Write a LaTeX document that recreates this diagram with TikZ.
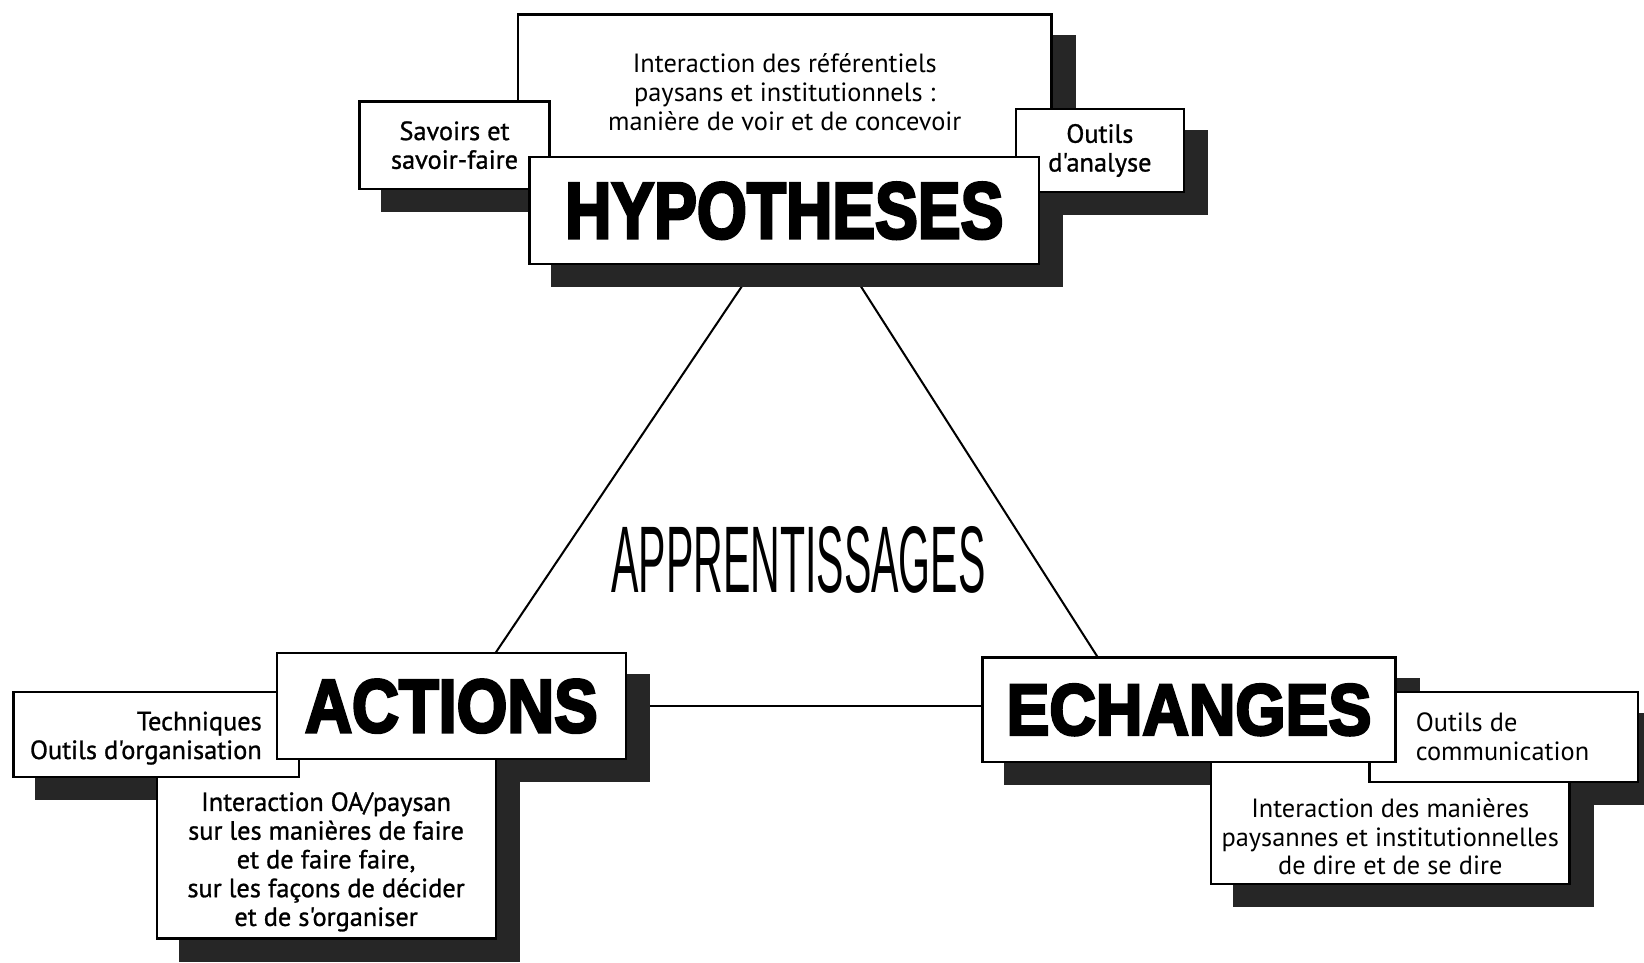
\documentclass[tikz,border=0pt]{standalone}
\usepackage{fontspec}
\setmainfont{PT Sans}
\newfontfamily\semifont{PT Sans}[FakeBold=1]
\newfontfamily\headfont{Liberation Sans Bold}[FakeBold=4]
\newfontfamily\condfont{Liberation Sans}
\usetikzlibrary{calc,backgrounds}

% one unit = one pixel of the layout grid
\newcommand{\px}{0.2mm}

\tikzset{
  box/.style={draw, fill=white, line width=1.3pt, inner sep=0pt, align=center,
    font=\fontsize{14.3}{15.6}\selectfont},
  txt/.style={inner sep=0pt, font=\fontsize{14.3}{15.6}\selectfont},
  shade/.style={fill=black!85},
  link/.style={line width=1.1pt},
}

\begin{document}
\begin{tikzpicture}[x=\px, y=-\px]
  \useasboundingbox (0,0) rectangle (1568,918);

  % --- top group ---
  \node[box, minimum width=509*\px, minimum height=148*\px] (ref) at (748.5,88)
    {Interaction des référentiels\\paysans et institutionnels :\\manière de voir et de concevoir};
  \node[box, minimum width=181*\px, minimum height=83*\px, font=\fontsize{14.3}{15.6}\semifont] (sav) at (433.5,138.5)
    {Savoirs et\\savoir-faire};
  \node[box, minimum width=160*\px, minimum height=79*\px, font=\fontsize{14.3}{15.6}\semifont] (ana) at (1049,143.5)
    {Outils\\d'analyse};
  \node[box, minimum width=486*\px, minimum height=102*\px] (hyp) at (748,201)
    {\resizebox{83.6mm}{10.6mm}{\headfont HYPOTHESES}};

  % --- left group ---
  \node[box, minimum width=323*\px, minimum height=171*\px] (oa) at (311.5,809.5) {};
  \node[box, minimum width=272*\px, minimum height=81*\px] (tech) at (149,700.5) {};
  \node[box, minimum width=333*\px, minimum height=101*\px] (act) at (430.5,673.5)
    {\resizebox{55.8mm}{10mm}{\headfont ACTIONS}};
  \node[txt, align=right, anchor=east, font=\fontsize{14.3}{15.6}\semifont] (techtxt) at (250,704)
    {Techniques\\Outils d'organisation};
  \node[txt, align=center, font=\fontsize{14.3}{15.6}\semifont] (oatxt) at (311,822)
    {Interaction OA/paysan\\sur les manières de faire\\et de faire faire,\\sur les façons de décider\\et de s'organiser};

  % --- right group ---
  \node[box, minimum width=342*\px, minimum height=116*\px] (man) at (1326,785) {};
  \node[box, minimum width=256*\px, minimum height=86*\px] (com) at (1434,703) {};
  \node[box, minimum width=394*\px, minimum height=100*\px] (ech) at (1134,677)
    {\resizebox{69.6mm}{9.6mm}{\headfont ECHANGES}};
  \node[txt, align=left, anchor=west] (comtxt) at (1350,703)
    {Outils de\\communication};
  \node[txt, align=center] (mantxt) at (1326,798)
    {Interaction des manières\\paysannes et institutionnelles\\de dire et de se dire};

  % --- centre ---
  \node[inner sep=0pt] (learn) at (761.5,534.5)
    {\resizebox{71.4mm}{12.6mm}{\condfont APPRENTISSAGES}};

  \begin{scope}[on background layer]
    % triangle between the three poles
    \draw[link] ($(hyp)+(8,0)$) -- ($(act)+(8,0)$);
    \draw[link] ($(hyp)+(27,0)$) -- ($(ech)+(-55,0)$);
    \draw[link] (act) -- (act -| ech);
    % drop shadows
    \foreach \n in {ref,sav,ana,hyp,tech,act,oa,ech,com,man}
      \fill[shade] ($(\n.south west)+(22,21)$) rectangle ($(\n.north east)+(22,21)$);
  \end{scope}
\end{tikzpicture}
\end{document}
